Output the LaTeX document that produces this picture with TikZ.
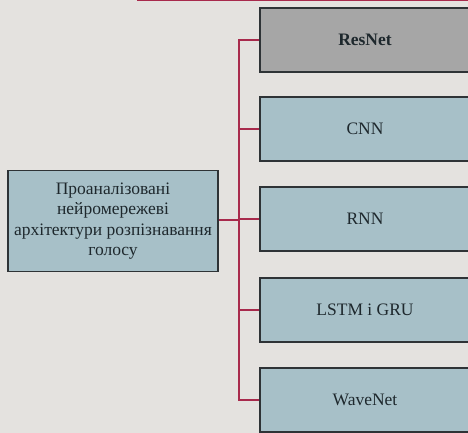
\documentclass[tikz,border=0pt]{standalone}
\usepackage{fontspec}
\setmainfont{Liberation Serif}
\newfontfamily\tnr{Liberation Serif}
\definecolor{bg}{HTML}{E4E2DF}
\definecolor{boxblue}{HTML}{A7C0C8}
\definecolor{boxgray}{HTML}{A6A6A6}
\definecolor{boxline}{HTML}{2E3336}
\definecolor{conred}{HTML}{A82A4C}
\definecolor{txt}{HTML}{1E282D}
\begin{document}
\begin{tikzpicture}[x=1pt,y=-1pt,
  box/.style={draw=boxline, line width=1.3pt, fill=boxblue, minimum width=210pt,
    minimum height=64pt, inner sep=0pt, text=txt,
    font=\tnr\fontsize{17.5}{20.5}\selectfont, align=center},
  conn/.style={draw=conred, line width=1.5pt}]
\fill[bg] (0,0) rectangle (468,433);
\useasboundingbox (0,0) rectangle (468,433);
\draw[conred, line width=2.5pt] (137,0) -- (468,0);
\node[box, minimum height=101pt] (src) at (113,221) {Проаналізовані\\нейромережеві\\архітектури розпізнавання\\голосу};
\node[box, fill=boxgray, font=\tnr\fontsize{17.5}{20.5}\selectfont\bfseries] (b1) at (365,40) {ResNet};
\node[box] (b2) at (365,129) {CNN};
\node[box] (b3) at (365,219) {RNN};
\node[box] (b4) at (365,310) {LSTM і GRU};
\node[box] (b5) at (365,400) {WaveNet};
\coordinate (j) at (239,220);
\draw[conn] (src.east |- j) -- (j);
\foreach \b in {b1,b2,b3,b4,b5} \draw[conn] (\b.west) -| (j);
\end{tikzpicture}
\end{document}
